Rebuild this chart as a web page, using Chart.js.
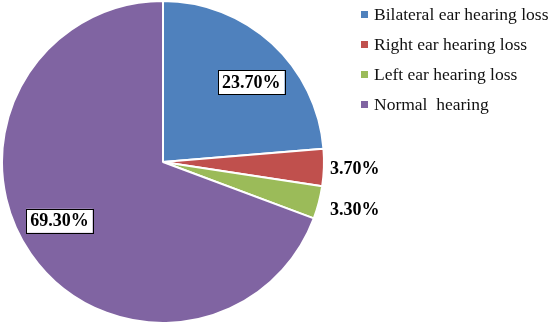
<!DOCTYPE html>
<html>
<head>
<meta charset="utf-8">
<script src="https://cdn.jsdelivr.net/npm/chart.js@4/dist/chart.umd.min.js"></script>
<style>
  html, body { margin: 0; padding: 0; background: #fff; }
  #wrap { width: 551px; height: 325px; position: relative; }
</style>
</head>
<body>
<div id="wrap"><canvas id="pie"></canvas></div>
<script>
  // Hearing status distribution
  const categories = ['Bilateral ear hearing loss', 'Right ear hearing loss', 'Left ear hearing loss', 'Normal  hearing'];
  const shares = [23.7, 3.7, 3.3, 69.3];
  const colors = ['#4F81BD', '#C0504D', '#9BBB59', '#8064A2'];

  const FONT = '"Liberation Serif", "Times New Roman", serif';

  // slices below this share get their label outside the pie
  const OUTSIDE_LIMIT = 10;

  const labelPlugin = {
    id: 'pieLabels',
    afterDraw: function (chart) {
      const ctx = chart.ctx;
      const meta = chart.getDatasetMeta(0);
      ctx.save();
      ctx.font = 'bold 18px ' + FONT;
      ctx.textBaseline = 'middle';
      meta.data.forEach(function (arc, i) {
        const p = arc.getProps(['x', 'y', 'startAngle', 'endAngle', 'outerRadius']);
        const mid = (p.startAngle + p.endAngle) / 2;
        const text = shares[i].toFixed(2) + '%';
        const w = ctx.measureText(text).width;
        if (shares[i] >= OUTSIDE_LIMIT) {
          // labels sit a little clockwise of the slice middle, as in the original
          const a = mid + 0.09;
          const r = p.outerRadius * 0.74;
          const cx = p.x + Math.cos(a) * r;
          const cy = p.y + Math.sin(a) * r;
          ctx.fillStyle = '#fff';
          ctx.fillRect(cx - w / 2 - 4, cy - 12, w + 8, 24);
          ctx.strokeStyle = '#000';
          ctx.lineWidth = 1;
          ctx.strokeRect(Math.round(cx - w / 2 - 4) + 0.5, Math.round(cy - 12) + 0.5, Math.round(w + 8), 24);
          ctx.fillStyle = '#000';
          ctx.textAlign = 'center';
          ctx.fillText(text, cx, cy + 1);
        } else {
          const r = p.outerRadius * 1.17;
          const cy = p.y + Math.sin(mid) * r;
          ctx.fillStyle = '#000';
          ctx.textAlign = 'left';
          ctx.fillText(text, p.x + p.outerRadius + 6, cy + 1);
        }
      });
      ctx.restore();
    }
  };

  const legendPlugin = {
    id: 'sideLegend',
    afterDraw: function (chart) {
      const ctx = chart.ctx;
      ctx.save();
      ctx.font = '17.5px ' + FONT;
      ctx.textBaseline = 'middle';
      ctx.textAlign = 'left';
      categories.forEach(function (name, i) {
        const y = 14 + i * 30;
        ctx.fillStyle = colors[i];
        ctx.fillRect(361, y - 3, 7, 7);
        ctx.fillStyle = '#111';
        ctx.fillText(name, 374, y + 1);
      });
      ctx.restore();
    }
  };

  new Chart(document.getElementById('pie'), {
    type: 'pie',
    data: {
      labels: categories,
      datasets: [{
        data: shares,
        backgroundColor: colors,
        borderColor: '#fff',
        borderWidth: 2
      }]
    },
    options: {
      responsive: true,
      maintainAspectRatio: false,
      animation: false,
      layout: { padding: { left: 0, top: 0, right: 225, bottom: 1 } },
      plugins: {
        legend: { display: false },
        tooltip: { enabled: false }
      }
    },
    plugins: [labelPlugin, legendPlugin]
  });
</script>
</body>
</html>
